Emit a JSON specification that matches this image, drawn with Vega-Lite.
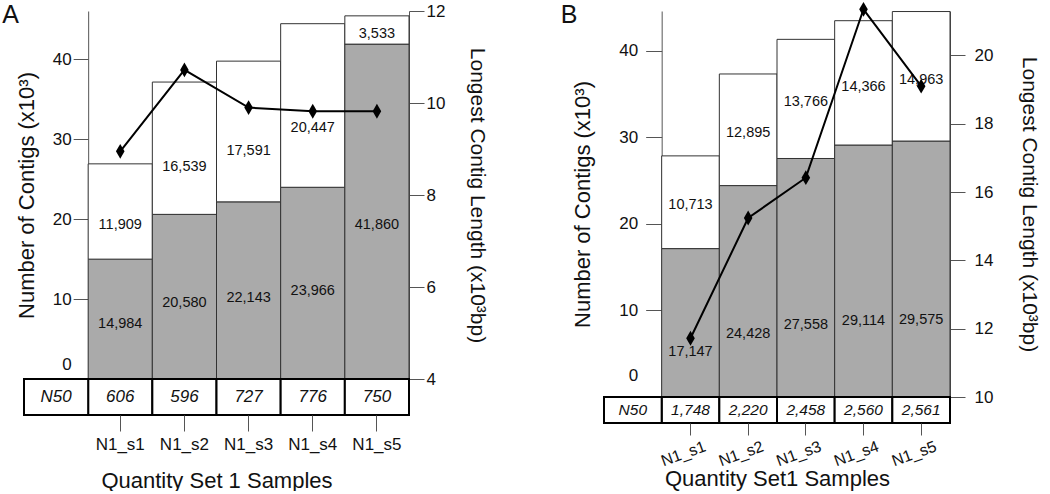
{
  "$schema": "https://vega.github.io/schema/vega-lite/v6.json",
  "padding": {"left": 2, "top": 1, "right": 0, "bottom": 0},
  "background": "white",
  "config": {
    "font": "Liberation Sans",
    "view": {"stroke": null},
    "axis": {"grid": false, "domainColor": "#555", "tickColor": "#555", "labelColor": "#111", "titleColor": "#111", "titleFontWeight": "normal", "labelFontSize": 17, "titleFontSize": 22, "tickSize": 15},
    "title": {"fontWeight": "normal", "color": "#111"}
  },
  "datasets": {
    "setA": [
      {"sample": "N1_s1", "bottom": 14984, "top": 11909, "longest": 8.95, "n50": 606},
      {"sample": "N1_s2", "bottom": 20580, "top": 16539, "longest": 10.72, "n50": 596},
      {"sample": "N1_s3", "bottom": 22143, "top": 17591, "longest": 9.9, "n50": 727},
      {"sample": "N1_s4", "bottom": 23966, "top": 20447, "longest": 9.82, "n50": 776},
      {"sample": "N1_s5", "bottom": 41860, "top": 3533, "longest": 9.82, "n50": 750}
    ],
    "setB": [
      {"sample": "N1_s1", "bottom": 17147, "top": 10713, "longest": 11.72, "n50": 1748},
      {"sample": "N1_s2", "bottom": 24428, "top": 12895, "longest": 15.24, "n50": 2220},
      {"sample": "N1_s3", "bottom": 27558, "top": 13766, "longest": 16.42, "n50": 2458},
      {"sample": "N1_s4", "bottom": 29114, "top": 14366, "longest": 21.35, "n50": 2560},
      {"sample": "N1_s5", "bottom": 29575, "top": 14963, "longest": 19.1, "n50": 2561}
    ]
  },
  "spacing": 72,
  "hconcat": [
    {
      "spacing": 0,
      "bounds": "flush",
      "vconcat": [
        {
          "width": 385, "height": 368,
          "title": {"text": "A", "anchor": "start", "frame": "bounds", "offset": -26, "fontSize": 25, "dx": -13},
          "data": {"name": "setA"},
          "layer": [
            {
              "transform": [{"fold": ["bottom", "top"], "as": ["part", "contigs"]}],
              "layer": [
                {
                  "mark": {"type": "bar", "stroke": "#333", "strokeWidth": 1},
                  "encoding": {
                    "x": {"field": "sample", "type": "nominal", "scale": {"type": "band", "domain": ["N50", "N1_s1", "N1_s2", "N1_s3", "N1_s4", "N1_s5"], "paddingInner": 0, "paddingOuter": 0}, "axis": null},
                    "y": {"field": "contigs", "type": "quantitative", "stack": "zero", "scale": {"domain": [0, 46000], "nice": false},
                      "axis": {"orient": "left", "offset": -64.17, "values": [0, 10000, 20000, 30000, 40000], "labelExpr": "format(datum.value/1000, 'd')", "title": "Number of Contigs (x10³)", "labelPadding": 2, "titlePadding": 14,
                        "labelOffset": {"condition": {"test": "datum.value == 0", "value": -15}, "value": 0},
                        "tickOpacity": {"condition": {"test": "datum.value == 0", "value": 0}, "value": 1}}},
                    "color": {"field": "part", "type": "nominal", "scale": {"domain": ["bottom", "top"], "range": ["#aaaaaa", "#ffffff"]}, "legend": null},
                    "order": {"field": "part", "sort": "ascending"}
                  }
                },
                {
                  "mark": {"type": "text", "fontSize": 14.5, "color": "#111"},
                  "encoding": {
                    "x": {"field": "sample", "type": "nominal"},
                    "y": {"field": "contigs", "type": "quantitative", "stack": "zero", "bandPosition": 0.46},
                    "detail": {"field": "part"},
                    "order": {"field": "part", "sort": "ascending"},
                    "text": {"condition": {"test": "datum.part == 'bottom'", "field": "contigs", "type": "quantitative", "format": ","}, "value": ""}
                  }
                },
                {
                  "mark": {"type": "text", "fontSize": 14.5, "color": "#111"},
                  "encoding": {
                    "x": {"field": "sample", "type": "nominal"},
                    "y": {"field": "contigs", "type": "quantitative", "stack": "zero", "bandPosition": 0.36},
                    "detail": {"field": "part"},
                    "order": {"field": "part", "sort": "ascending"},
                    "text": {"condition": {"test": "datum.part == 'top'", "field": "contigs", "type": "quantitative", "format": ","}, "value": ""}
                  }
                }
              ]
            },
            {
              "layer": [
                {
                  "mark": {"type": "line", "color": "black", "strokeWidth": 2},
                  "encoding": {
                    "x": {"field": "sample", "type": "nominal"},
                    "y": {"field": "longest", "type": "quantitative", "scale": {"domain": [4, 12], "nice": false, "zero": false},
                      "axis": {"orient": "right", "values": [4, 6, 8, 10, 12], "title": "Longest Contig Length (x10³bp)", "labelPadding": 2, "titlePadding": 22, "titleFontSize": 21}}
                  }
                },
                {
                  "mark": {"type": "point", "shape": "M0,-1L0.58,0L0,1L-0.58,0Z", "filled": true, "color": "black", "size": 220, "opacity": 1},
                  "encoding": {
                    "x": {"field": "sample", "type": "nominal"},
                    "y": {"field": "longest", "type": "quantitative"}
                  }
                }
              ]
            }
          ],
          "resolve": {"scale": {"y": "independent"}}
        },
        {
          "width": 385, "height": 36,
          "data": {"name": "setA"},
          "layer": [
            {
              "mark": {"type": "rect", "fill": "white", "stroke": "black", "strokeWidth": 2},
              "encoding": {
                "x": {"field": "sample", "type": "nominal", "scale": {"type": "band", "domain": ["N50", "N1_s1", "N1_s2", "N1_s3", "N1_s4", "N1_s5"], "paddingInner": 0, "paddingOuter": 0},
                  "axis": {"orient": "bottom", "values": ["N1_s1", "N1_s2", "N1_s3", "N1_s4", "N1_s5"], "domain": false, "labelAngle": 0, "tickSize": 16, "labelPadding": 5, "title": "Quantity Set 1 Samples", "titlePadding": 18}}
              }
            },
            {
              "data": {"values": [{}]},
              "mark": {"type": "rect", "fill": "white", "stroke": "black", "strokeWidth": 2},
              "encoding": {"x": {"datum": "N50", "type": "nominal"}}
            },
            {
              "mark": {"type": "text", "fontSize": 17, "fontStyle": "italic", "color": "#111"},
              "encoding": {
                "x": {"field": "sample", "type": "nominal"},
                "text": {"field": "n50", "type": "quantitative", "format": ","}
              }
            },
            {
              "data": {"values": [{}]},
              "mark": {"type": "text", "fontSize": 17, "fontStyle": "italic", "color": "#111"},
              "encoding": {"x": {"datum": "N50", "type": "nominal"}, "text": {"value": "N50"}}
            }
          ]
        }
      ]
    },
    {
      "spacing": 0,
      "bounds": "flush",
      "vconcat": [
        {
          "width": 346, "height": 386,
          "title": {"text": "B", "anchor": "start", "frame": "bounds", "offset": -26, "fontSize": 25, "dx": -11},
          "data": {"name": "setB"},
          "layer": [
            {
              "transform": [{"fold": ["bottom", "top"], "as": ["part", "contigs"]}],
              "layer": [
                {
                  "mark": {"type": "bar", "stroke": "#333", "strokeWidth": 1},
                  "encoding": {
                    "x": {"field": "sample", "type": "nominal", "scale": {"type": "band", "domain": ["N50", "N1_s1", "N1_s2", "N1_s3", "N1_s4", "N1_s5"], "paddingInner": 0, "paddingOuter": 0}, "axis": null},
                    "y": {"field": "contigs", "type": "quantitative", "stack": "zero", "scale": {"domain": [0, 44600], "nice": false},
                      "axis": {"orient": "left", "offset": -57.67, "values": [0, 10000, 20000, 30000, 40000], "labelExpr": "format(datum.value/1000, 'd')", "title": "Number of Contigs (x10³)", "labelPadding": 8, "titlePadding": 24, "tickSize": 16,
                        "labelOffset": {"condition": {"test": "datum.value == 0", "value": -22}, "value": 0},
                        "tickOpacity": {"condition": {"test": "datum.value == 0", "value": 0}, "value": 1}}},
                    "color": {"field": "part", "type": "nominal", "scale": {"domain": ["bottom", "top"], "range": ["#aaaaaa", "#ffffff"]}, "legend": null},
                    "order": {"field": "part", "sort": "ascending"}
                  }
                },
                {
                  "mark": {"type": "text", "fontSize": 14.5, "color": "#111"},
                  "encoding": {
                    "x": {"field": "sample", "type": "nominal"},
                    "y": {"field": "contigs", "type": "quantitative", "stack": "zero", "bandPosition": 0.3},
                    "detail": {"field": "part"},
                    "order": {"field": "part", "sort": "ascending"},
                    "text": {"condition": {"test": "datum.part == 'bottom'", "field": "contigs", "type": "quantitative", "format": ","}, "value": ""}
                  }
                },
                {
                  "mark": {"type": "text", "fontSize": 14.5, "color": "#111"},
                  "encoding": {
                    "x": {"field": "sample", "type": "nominal"},
                    "y": {"field": "contigs", "type": "quantitative", "stack": "zero", "bandPosition": 0.47},
                    "detail": {"field": "part"},
                    "order": {"field": "part", "sort": "ascending"},
                    "text": {"condition": {"test": "datum.part == 'top'", "field": "contigs", "type": "quantitative", "format": ","}, "value": ""}
                  }
                }
              ]
            },
            {
              "layer": [
                {
                  "mark": {"type": "line", "color": "black", "strokeWidth": 2},
                  "encoding": {
                    "x": {"field": "sample", "type": "nominal"},
                    "y": {"field": "longest", "type": "quantitative", "scale": {"domain": [10, 21.3], "nice": false, "zero": false},
                      "axis": {"orient": "right", "values": [10, 12, 14, 16, 18, 20], "title": "Longest Contig Length (x10³bp)", "labelPadding": 9, "titlePadding": 26, "titleFontSize": 21}}
                  }
                },
                {
                  "mark": {"type": "point", "shape": "M0,-1L0.58,0L0,1L-0.58,0Z", "filled": true, "color": "black", "size": 220, "opacity": 1},
                  "encoding": {
                    "x": {"field": "sample", "type": "nominal"},
                    "y": {"field": "longest", "type": "quantitative"}
                  }
                }
              ]
            }
          ],
          "resolve": {"scale": {"y": "independent"}}
        },
        {
          "width": 346, "height": 26,
          "data": {"name": "setB"},
          "layer": [
            {
              "mark": {"type": "rect", "fill": "white", "stroke": "black", "strokeWidth": 2},
              "encoding": {
                "x": {"field": "sample", "type": "nominal", "scale": {"type": "band", "domain": ["N50", "N1_s1", "N1_s2", "N1_s3", "N1_s4", "N1_s5"], "paddingInner": 0, "paddingOuter": 0},
                  "axis": {"orient": "bottom", "values": ["N1_s1", "N1_s2", "N1_s3", "N1_s4", "N1_s5"], "domain": false, "labelAngle": -20, "labelAlign": "right", "labelBaseline": "top", "labelOffset": 12, "labelFontSize": 16, "tickSize": 12, "labelPadding": 3, "title": "Quantity Set1 Samples", "titlePadding": 0}}
              }
            },
            {
              "data": {"values": [{}]},
              "mark": {"type": "rect", "fill": "white", "stroke": "black", "strokeWidth": 2},
              "encoding": {"x": {"datum": "N50", "type": "nominal"}}
            },
            {
              "mark": {"type": "text", "fontSize": 15.5, "fontStyle": "italic", "color": "#111"},
              "encoding": {
                "x": {"field": "sample", "type": "nominal"},
                "text": {"field": "n50", "type": "quantitative", "format": ","}
              }
            },
            {
              "data": {"values": [{}]},
              "mark": {"type": "text", "fontSize": 15.5, "fontStyle": "italic", "color": "#111"},
              "encoding": {"x": {"datum": "N50", "type": "nominal"}, "text": {"value": "N50"}}
            }
          ]
        }
      ]
    }
  ]
}
